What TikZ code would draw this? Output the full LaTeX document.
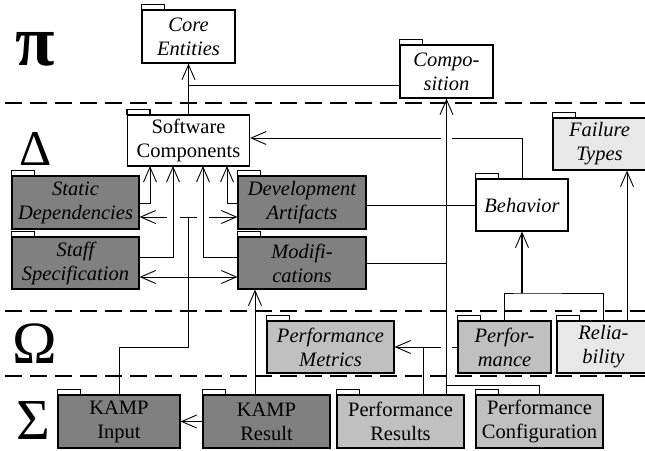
\documentclass[tikz,border=0pt]{standalone}
\usepackage{fontspec}
\setmainfont{Liberation Serif}
\newfontfamily\pkgfont{Liberation Serif}
\usetikzlibrary{arrows.meta}
\definecolor{darkpkg}{RGB}{128,128,128}
\definecolor{midpkg}{RGB}{192,192,192}
\definecolor{lightpkg}{RGB}{232,232,232}

\begin{document}
\begin{tikzpicture}[x=1pt,y=-1pt,
  pkg/.style={draw, line width=1.2pt, align=center, inner sep=0pt,
    font=\pkgfont\fontsize{20.5}{24}\selectfont, minimum width=127pt, minimum height=53pt},
  narrow/.style={minimum width=93pt},
  ital/.style={font=\pkgfont\fontsize{20.5}{24}\selectfont\itshape},
  tabbox/.style={draw, fill=white, line width=1.2pt},
  conn/.style={line width=0.9pt},
  heavy/.style={line width=1.6pt},
  arr/.style={conn, -{Straight Barb[length=15pt,width=13pt,line width=0.9pt]}},
  layer/.style={dash pattern=on 17pt off 8pt, line width=1.4pt},
  greek/.style={anchor=base, inner sep=0pt}
]
\useasboundingbox (0,0) rectangle (645,450);
\clip (0,0) rectangle (645,450);

% layer separators
\draw[layer] (5,103) -- (645,103);
\draw[layer] (5,311) -- (645,311);
\draw[layer] (5,376) -- (645,376);

% layer symbols
\node[greek, font=\pkgfont\fontsize{72}{72}\selectfont\bfseries] (lpi) at (35,65) {π};
\node[greek, font=\pkgfont\fontsize{50}{50}\selectfont] (ldelta) at (35.5,165) {Δ};
\node[greek, font=\pkgfont\fontsize{60}{60}\selectfont] (lomega) at (34.5,363) {Ω};
\node[greek, font=\pkgfont\fontsize{58}{58}\selectfont] (lsigma) at (33.5,439) {Σ};

% packages
\node[pkg, narrow, ital, fill=white] (ce) at (188.5,36.5) {Core\\Entities};
\node[pkg, narrow, ital, fill=white] (comp) at (446.5,71.5) {Compo-\\sition};
\node[pkg, fill=white, minimum width=122pt, minimum height=51pt] (sc) at (188.5,140.5) {Software\\Components};
\node[pkg, ital, fill=darkpkg] (sd) at (75.5,202.5) {Static\\Dependencies};
\node[pkg, ital, fill=darkpkg, minimum width=128pt] (da) at (302,202.5) {Development\\Artifacts};
\node[pkg, ital, fill=darkpkg, minimum height=52pt] (ss) at (75.5,263) {Staff\\Specification};
\node[pkg, ital, fill=darkpkg, minimum width=128pt, minimum height=52pt] (mod) at (302,263) {Modifi-\\cations};
\node[pkg, narrow, ital, fill=white, minimum width=92pt, minimum height=52pt] (beh) at (522,205) {Behavior};
\node[pkg, narrow, ital, fill=lightpkg, minimum height=52pt] (ft) at (599.5,144) {Failure\\Types};
\node[pkg, ital, fill=midpkg, minimum height=52pt] (pm) at (330.5,347) {Performance\\Metrics};
\node[pkg, narrow, ital, fill=midpkg, minimum height=52pt] (perf) at (504.5,347) {Perfor-\\mance};
\node[pkg, narrow, ital, fill=lightpkg, minimum height=52pt] (rel) at (603.5,347) {Relia-\\bility};
\node[pkg, fill=darkpkg, minimum width=122pt] (ki) at (119,421.5) {KAMP\\Input};
\node[pkg, fill=darkpkg] (kr) at (266.5,421.5) {KAMP\\Result};
\node[pkg, fill=midpkg] (pr) at (400.5,421.5) {Performance\\Results};
\node[pkg, fill=midpkg] (pc) at (539.5,421.5) {Performance\\Configuration};

% package tabs
\foreach \n in {ce,comp,sc,sd,da,ss,mod,beh,ft,pm,perf,rel,ki,kr,pr,pc}
  \draw[tabbox] (\n.north west) rectangle ++(23,-5);

% junction and bend points
\coordinate (jce) at (188.5,85);
\coordinate (jpc) at (446.5,385);
\coordinate (jbeh) at (522,293);
\coordinate (gapR) at (452,138);
\coordinate (gapL) at (441,138);
\coordinate (prfR) at (452,347);
\coordinate (prfL) at (441,347);
\coordinate (prm) at (423,347);
\coordinate (rft) at (627,321);
\coordinate (krm) at (255,395);
\coordinate (kbend) at (188,347);
\coordinate (jup) at (188,217);
\coordinate (jlow) at (188,277);
\coordinate (jupL) at (180,217);
\coordinate (jupR) at (197,217);
\coordinate (hopL) at (166.5,217);
\coordinate (hopR) at (208.5,217);
\coordinate (sdo) at (139,203);
\coordinate (sdi) at (150,166);
\coordinate (sso) at (139,257);
\coordinate (ssi) at (173,166);
\coordinate (modo) at (238,257);
\coordinate (modi) at (203,166);
\coordinate (dao) at (238,203);
\coordinate (dai) at (227,166);

% upper layer links
\draw[arr] (sc.north) -- (ce.south);
\draw[conn] (jce) -- (jce -| comp.west);
\draw[arr, heavy] (pr.north -| comp.south) -- (comp.south);
\draw[conn] (mod.east) -- (mod.east -| comp.south);
\draw[conn] (pc.north) |- (jpc);

% behaviour links
\draw[conn] (beh.north) |- (gapR);
\draw[arr] (gapL) -- (gapL -| sc.east);
\draw[conn] (beh.west) -- (beh.west -| da.east);
\draw[conn] (perf.north) |- (jbeh) -| (rel.north);
\draw[arr, heavy] (jbeh) -- (beh.south);
\draw[arr] (rft) -- (rft |- ft.south);

% performance metrics
\draw[conn] (perf.west) -- (prfR);
\draw[arr] (prfL) -- (pm.east);
\draw[conn] (prm |- pr.north) -- (prm);

% KAMP links
\draw[arr] (kr.west) -- (ki.east);
\draw[arr] (krm) -- (krm |- mod.south);
\draw[conn] (ki.north) |- (kbend) -- (jup);
\draw[conn] (jupL) -- (jupR);
\draw[arr] (hopL) -- (sd.east |- jup);
\draw[arr] (hopR) -- (da.west |- jup);
\draw[arr] (jlow) -- (jlow -| ss.east);
\draw[arr] (jlow) -- (jlow -| mod.west);

% links into Software Components
\draw[arr] (sdo) -| (sdi);
\draw[arr] (sso) -| (ssi);
\draw[arr] (modo) -| (modi);
\draw[arr] (dao) -| (dai);
\end{tikzpicture}
\end{document}
